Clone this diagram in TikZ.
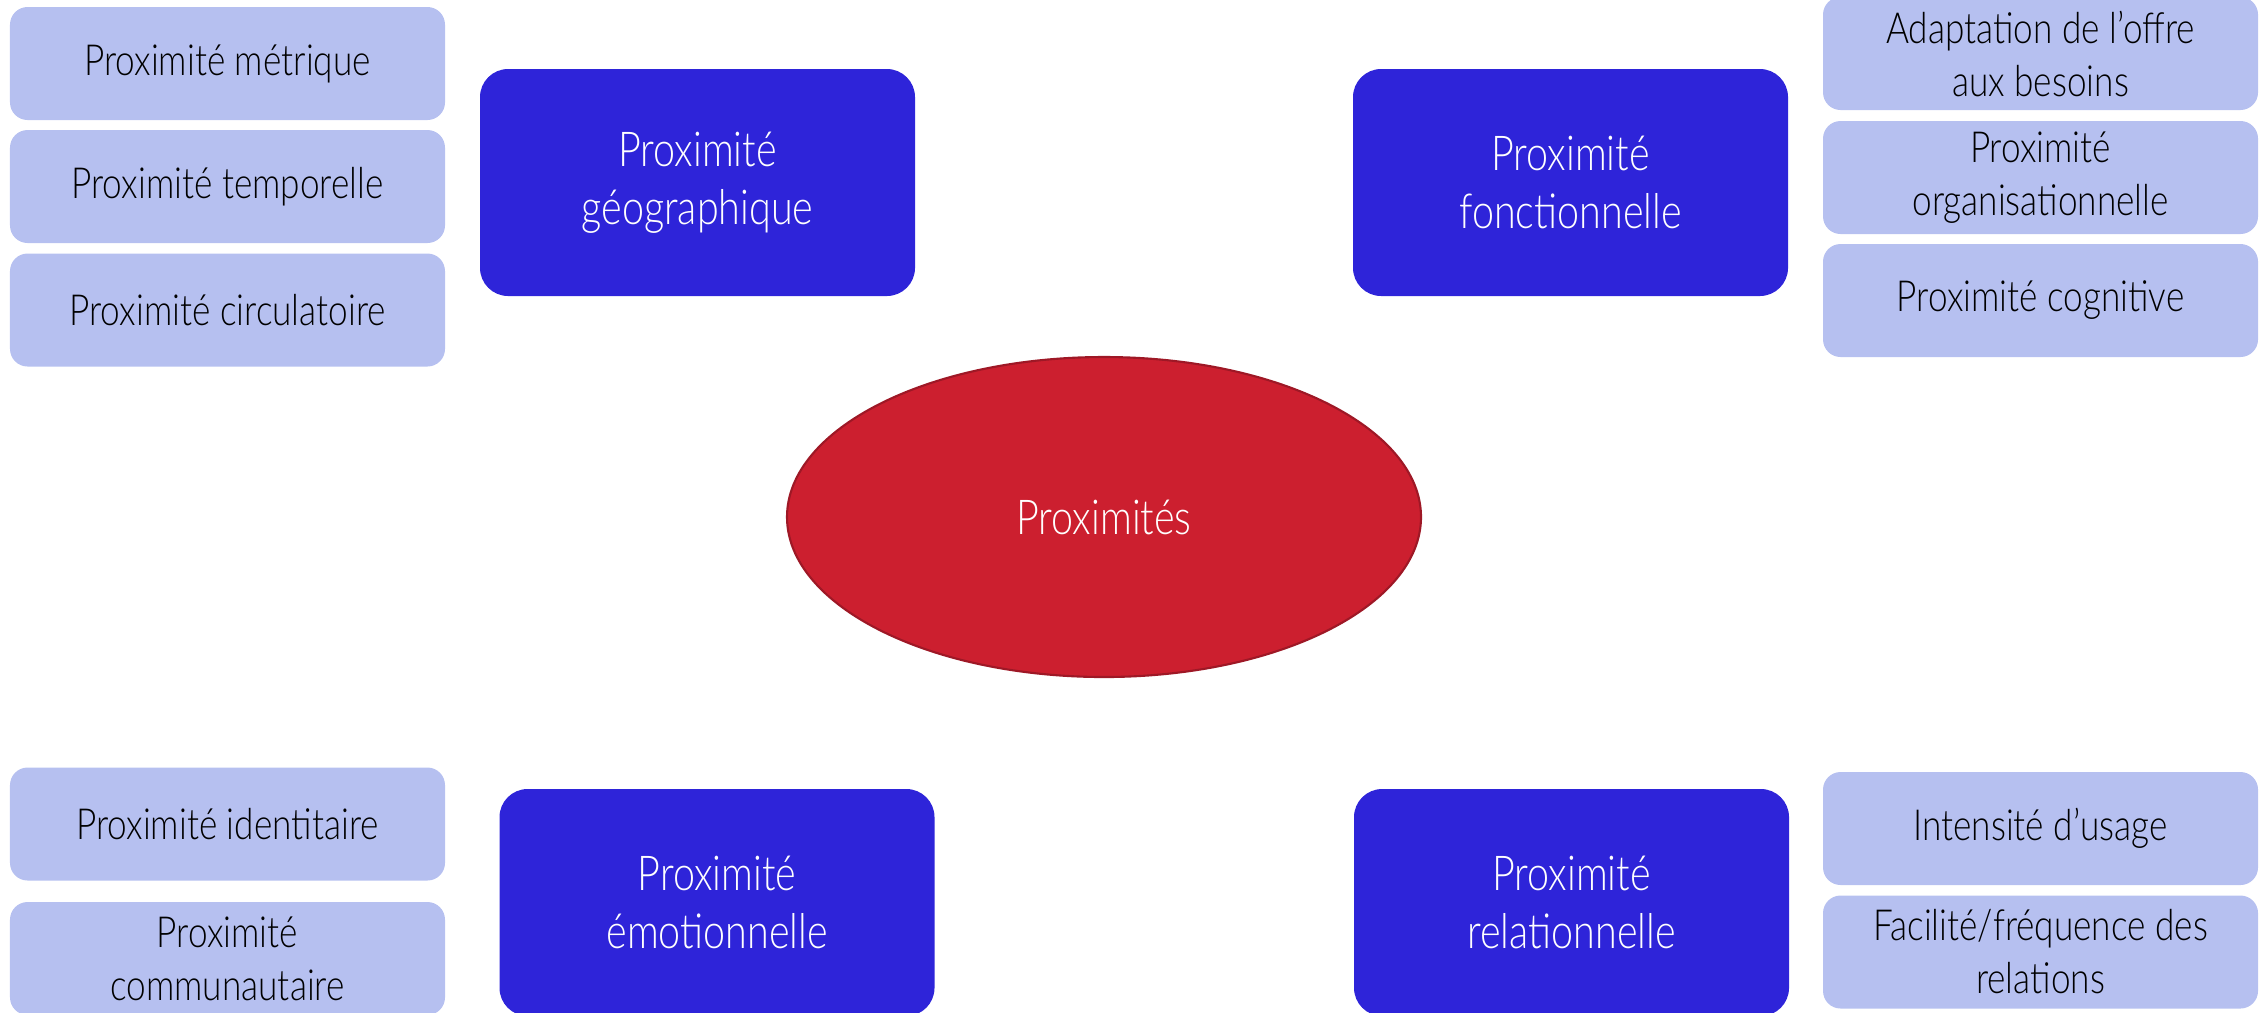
\documentclass[tikz,border=0pt]{standalone}
\usepackage{fontspec}
\setmainfont{Lato}[FakeStretch=0.82, UprightFont=* Light]
\usepackage{xcolor}
\usetikzlibrary{shapes.geometric}
\definecolor{poleblue}{HTML}{2E24D9}
\definecolor{facetblue}{HTML}{B6C0F0}
\definecolor{corered}{HTML}{CC1F2F}
\definecolor{coreedge}{HTML}{9E1826}

\begin{document}
\begin{tikzpicture}[
  pole/.style={fill=poleblue, rounded corners=8pt, text=white, align=center,
               minimum width=4.35cm, minimum height=2.27cm, inner sep=2pt,
               font=\fontsize{13.7}{16.5}\selectfont},
  facet/.style={fill=facetblue, rounded corners=5pt, align=center,
                minimum width=4.35cm, minimum height=1.13cm, inner sep=2pt,
                font=\fontsize{12.2}{15.1}\selectfont},
  core/.style={ellipse, draw=coreedge, line width=.6pt, fill=corered,
               minimum width=6.34cm, minimum height=3.2cm, text=white,
               font=\fontsize{13.7}{16.5}\selectfont}
]
  \clip (0,0) rectangle (22.67,-10.12);

  % Centre.
  \node[core] (centre) at (11.04,-5.17) {Proximités};

  % Geographic proximity.
  \node[pole] (geo) at (6.975,-1.825) {Proximité\\géographique};
  \node[facet] (geo-metr) at (2.275,-0.635) {Proximité métrique};
  \node[facet] (geo-temp) at (2.275,-1.865) {Proximité temporelle};
  \node[facet] (geo-circ) at (2.275,-3.10) {Proximité circulatoire};

  % Functional proximity.
  \node[pole] (fonc) at (15.705,-1.825) {Proximité\\fonctionnelle};
  \node[facet] (fonc-adapt) at (20.405,-0.535) {Adaptation de l’offre\\aux besoins};
  \node[facet] (fonc-orga) at (20.405,-1.775) {Proximité\\organisationnelle};
  \node[facet] (fonc-cogn) at (20.405,-3.005) {Proximité cognitive};

  % Emotional proximity.
  \node[pole] (emo) at (7.17,-9.025) {Proximité\\émotionnelle};
  \node[facet] (emo-iden) at (2.275,-8.24) {Proximité identitaire};
  \node[facet] (emo-comm) at (2.275,-9.585) {Proximité\\communautaire};

  % Relational proximity.
  \node[pole] (rel) at (15.715,-9.025) {Proximité\\relationnelle};
  \node[facet] (rel-inte) at (20.405,-8.285) {Intensité d’usage};
  \node[facet] (rel-faci) at (20.405,-9.52) {Facilité/fréquence des\\relations};
\end{tikzpicture}
\end{document}
